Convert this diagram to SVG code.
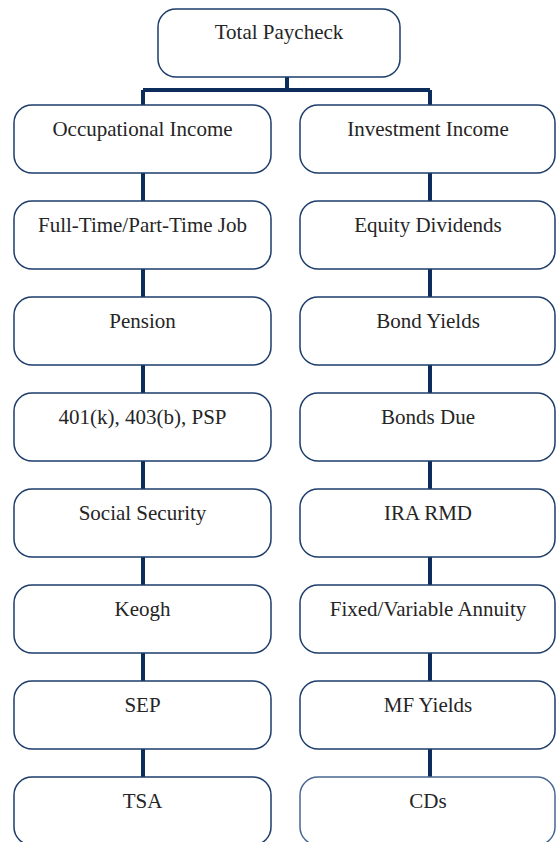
<svg xmlns="http://www.w3.org/2000/svg" width="556" height="842" viewBox="0 0 556 842">
<style>
.box{fill:#fff;stroke:#1d3d6b;stroke-width:1.5}
.lt{stroke:#4a6792}
.t{font-family:"Liberation Serif","Times New Roman",serif;font-size:21px;fill:#252525;text-anchor:middle}
.c{stroke:#0c2c5c;stroke-width:4;fill:none}
</style>
<rect width="556" height="842" fill="#fff"/>
<g id="connectors">
<path class="c" d="M287 77V90M143 90H430M143 90V105M430 90V105"/>
<path class="c" d="M143 173V201M143 269V297M143 365V393M143 461V489M143 557V585M143 653V681M143 749V777"/>
<path class="c" d="M430 173V201M430 269V297M430 365V393M430 461V489M430 557V585M430 653V681M430 749V777"/>
</g>
<g id="total"><rect class="box" x="158" y="9" width="242" height="68" rx="18"/><text class="t" x="279" y="39">Total Paycheck</text></g>
<g id="occ"><rect class="box" x="14" y="105" width="257" height="68" rx="18"/><text class="t" x="142.5" y="136">Occupational Income</text></g>
<g id="job"><rect class="box" x="14" y="201" width="257" height="68" rx="18"/><text class="t" x="142.5" y="232">Full-Time/Part-Time Job</text></g>
<g id="pension"><rect class="box" x="14" y="297" width="257" height="68" rx="18"/><text class="t" x="142.5" y="328">Pension</text></g>
<g id="k401"><rect class="box" x="14" y="393" width="257" height="68" rx="18"/><text class="t" x="142.5" y="424">401(k), 403(b), PSP</text></g>
<g id="ss"><rect class="box" x="14" y="489" width="257" height="68" rx="18"/><text class="t" x="142.5" y="520">Social Security</text></g>
<g id="keogh"><rect class="box" x="14" y="585" width="257" height="68" rx="18"/><text class="t" x="142.5" y="616">Keogh</text></g>
<g id="sep"><rect class="box" x="14" y="681" width="257" height="68" rx="18"/><text class="t" x="142.5" y="712">SEP</text></g>
<g id="tsa"><rect class="box" x="14" y="777" width="257" height="68" rx="18"/><text class="t" x="142.5" y="808">TSA</text></g>
<g id="inv"><rect class="box" x="300" y="105" width="255" height="68" rx="18"/><text class="t" x="428" y="136">Investment Income</text></g>
<g id="eq"><rect class="box" x="300" y="201" width="255" height="68" rx="18"/><text class="t" x="428" y="232">Equity Dividends</text></g>
<g id="bondy"><rect class="box" x="300" y="297" width="255" height="68" rx="18"/><text class="t" x="428" y="328">Bond Yields</text></g>
<g id="bondd"><rect class="box" x="300" y="393" width="255" height="68" rx="18"/><text class="t" x="428" y="424">Bonds Due</text></g>
<g id="ira"><rect class="box" x="300" y="489" width="255" height="68" rx="18"/><text class="t" x="428" y="520">IRA RMD</text></g>
<g id="annuity"><rect class="box" x="300" y="585" width="255" height="68" rx="18"/><text class="t" x="428" y="616">Fixed/Variable Annuity</text></g>
<g id="mf"><rect class="box" x="300" y="681" width="255" height="68" rx="18"/><text class="t" x="428" y="712">MF Yields</text></g>
<g id="cds"><rect class="box lt" x="300" y="777" width="255" height="68" rx="18"/><text class="t" x="428" y="808">CDs</text></g>
</svg>
